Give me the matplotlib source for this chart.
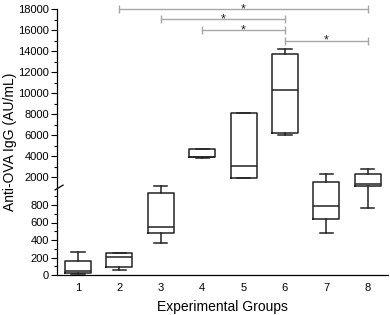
import matplotlib
matplotlib.use("Agg")
import matplotlib.pyplot as plt
import numpy as np
from matplotlib.scale import FuncScale

plt.rcParams['font.family'] = ['Liberation Sans', 'DejaVu Sans']

# ---- data ----
groups = [1, 2, 3, 4, 5, 6, 7, 8]
whislo = [10, 57, 369, 3850, 1876, 5971, 484, 771]
q1 = [27, 88, 476, 3880, 1876, 6162, 636, 1171]
med = [49, 202, 545, 3900, 3076, 10286, 792, 1362]
q3 = [164, 248, 940, 4638, 8067, 13686, 1495, 2286]
whishi = [259, 250, 1150, 4650, 8067, 14190, 2257, 2733]

# significance brackets: (start group, end group, level)
sig_start = [2, 3, 4, 6]
sig_end = [8, 6, 6, 8]
sig_level = [18000, 17050, 16000, 15000]
sig_label = ['*', '*', '*', '*']

lower_ticks = [0, 200, 400, 600, 800]
upper_ticks = [2000, 4000, 6000, 8000, 10000, 12000, 14000, 16000, 18000]
BREAK = 1000
RATIO = 0.12


def fwd(v):
    v = np.asarray(v, dtype=float)
    return np.where(v <= BREAK, v, BREAK + (v - BREAK) * RATIO)


def inv(t):
    t = np.asarray(t, dtype=float)
    return np.where(t <= BREAK, t, BREAK + (t - BREAK) / RATIO)


fig = plt.figure(figsize=(3.9, 3.15), dpi=100)
ax = fig.add_axes([57.4 / 390, 40 / 315, (388.4 - 57.4) / 390, (306 - 40) / 315])
ax.set_yscale(FuncScale(ax, (fwd, inv)))

stats = []
for i in range(len(groups)):
    stats.append(dict(med=med[i], q1=q1[i], q3=q3[i], whislo=whislo[i],
                      whishi=whishi[i], fliers=[]))
lw = 1.1
ax.bxp(stats, positions=groups, widths=0.63, showfliers=False,
       boxprops=dict(color='#222222', linewidth=lw),
       medianprops=dict(color='#222222', linewidth=lw),
       whiskerprops=dict(color='#222222', linewidth=lw),
       capprops=dict(color='#222222', linewidth=lw),
       capwidths=0.32, manage_ticks=False)

ax.set_xlim(0.5, 8.5)
ax.set_ylim(0, 18000)
ax.set_xticks(groups)
ax.set_xticklabels([str(g) for g in groups])
ax.tick_params(axis='x', length=0, labelsize=8, pad=6)

ax.set_yticks(lower_ticks + upper_ticks)
ax.set_yticklabels([str(t) for t in lower_ticks + upper_ticks])
minor = list(range(100, 1000, 200)) + list(range(3000, 18000, 2000))
ax.set_yticks(minor, minor=True)
ax.tick_params(axis='y', which='major', length=4, width=0.8, labelsize=8, pad=2)
ax.tick_params(axis='y', which='minor', length=2.2, width=0.8)

for s in ['top', 'right']:
    ax.spines[s].set_visible(False)
ax.spines['left'].set_linewidth(0.9)
ax.spines['bottom'].set_linewidth(0.9)

# break slash on the y-axis
ybreak_ax = fwd(BREAK) / fwd(18000)
ax.plot([-0.007, 0.017], [ybreak_ax - 0.009, ybreak_ax + 0.009],
        transform=ax.transAxes, color='black', lw=0.9, clip_on=False)

# significance brackets
gray = '#a8a8a8'
for a, b, lev, lab in zip(sig_start, sig_end, sig_level, sig_label):
    ax.plot([a, b], [lev, lev], color=gray, lw=1.0, clip_on=False)
    ax.plot([a, b], [lev, lev], color=gray, linestyle='none', marker='|',
            markersize=6, markeredgewidth=1.0, clip_on=False)
    ax.annotate(lab, xy=((a + b) / 2, lev), xytext=(0, -2.2),
                textcoords='offset points', ha='center', va='baseline',
                fontsize=9, color='#222222', annotation_clip=False)

ax.set_xlabel('Experimental Groups', fontsize=10, labelpad=5)
ax.set_ylabel('Anti-OVA IgG (AU/mL)', fontsize=10, labelpad=0.5)

fig.savefig('out.png', dpi=100)
